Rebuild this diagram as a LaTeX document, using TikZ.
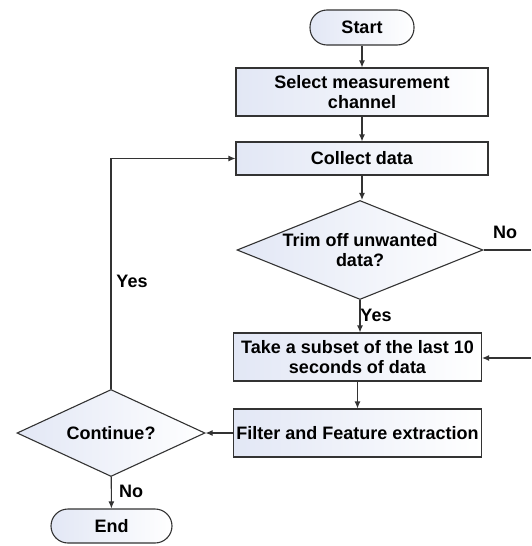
\documentclass[tikz,border=0pt]{standalone}
\usepackage{fontspec}
\setmainfont{Liberation Sans}
\usetikzlibrary{shapes}
\usetikzlibrary{calc}
\usetikzlibrary{arrows.meta}
\definecolor{boxfill}{RGB}{226,231,245}

\begin{document}
\begin{tikzpicture}[x=1pt,y=-1pt,
    >={Latex[length=7pt,width=6pt]},
    every node/.style={font=\fontsize{18}{20.5}\selectfont\bfseries},
    flowline/.style={line width=1.1pt,draw=black!80},
    box/.style={flowline,rectangle,left color=boxfill,right color=white,inner sep=0pt,align=center},
    term/.style={box,rounded corners=17pt},
    dec/.style={box,diamond,aspect=2.5}]
      \useasboundingbox (0,0) rectangle (531,546);
      % blocks
      \node[term, minimum width=104pt, minimum height=35pt] (start) at (362,27.5) {Start};
      \node[box, minimum width=252pt, minimum height=48pt] (select) at (362,92) {Select measurement\\channel};
      \node[box, minimum width=252pt, minimum height=33pt] (collect) at (362,158.5) {Collect data};
      \node[dec, minimum width=246pt, minimum height=99pt] (trim) at (360,250) {Trim off unwanted\\data?};
      \node[box, minimum width=248pt, minimum height=48pt] (subset) at (357.5,357) {Take a subset of the last 10\\seconds of data};
      \node[box, minimum width=248pt, minimum height=48pt] (filter) at (357.5,433) {Filter and Feature extraction};
      \node[dec, minimum width=188pt, minimum height=87pt] (cont) at (111,433) {Continue?};
      \node[term, minimum width=121pt, minimum height=34pt] (end) at (111.5,526) {End};
      % labels
      \node (yesloop) at (132,281) {Yes};
      \node (notrim) at (505,232) {No};
      \node (yestrim) at (376,315) {Yes};
      \node (nocont) at (131,491) {No};
      \coordinate (trimout) at (531,250);
      \coordinate (subsetin) at (531,358);
      % connectors
      \draw [flowline,->] (start) -- (select);
      \draw [flowline,->] (select) -- (collect);
      \draw [flowline,->] (collect.south) -- (collect.south |- trim.north);
      \draw [flowline,->] (trim.south) -- (trim.south |- subset.north);
      \draw [flowline] (trim.east) -- (trimout);
      \draw [flowline,->] (subsetin) -- (subsetin -| subset.east);
      \draw [flowline,->] (subset) -- (filter);
      \draw [flowline,->] (filter) -- (cont);
      \draw [flowline,->] (cont) -- (end);
      \draw [flowline,->] (cont.north) |- (collect.west);
    \end{tikzpicture}
\end{document}
